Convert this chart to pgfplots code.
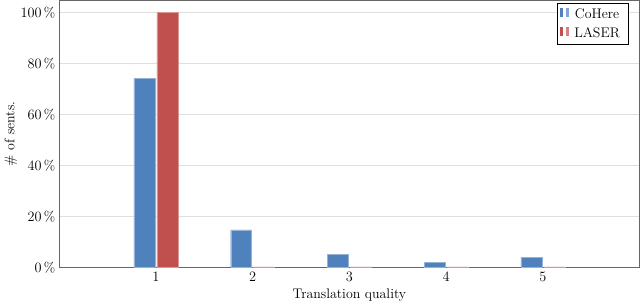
\documentclass[border=0pt]{standalone}
\usepackage{pgfplots}
\pgfplotsset{compat=1.18}
\definecolor{cblue}{RGB}{79,129,189}
\definecolor{cred}{RGB}{192,80,77}
\begin{document}
\fontsize{14}{16}\selectfont
\begin{tikzpicture}
\begin{axis}[
  scale only axis,
  width=582bp, height=268bp,
  ybar, bar width=21bp, bar shift auto,
  xmin=0, xmax=6, ymin=0, ymax=104.7,
  xtick={1,2,3,4,5},
  ytick={0,20,40,60,80,100},
  yticklabel={\pgfmathprintnumber{\tick}\,\%},
  major tick length=0pt,
  ymajorgrids, grid style={gray!25, line width=0.8pt},
  axis line style={gray!80!black, line width=0.8pt},
  xlabel={Translation quality}, ylabel={\# of sents.},
  tick label style={font=\fontsize{14}{16}\selectfont},
  label style={font=\fontsize{14}{16}\selectfont},
  legend style={at={(0.98,0.99)}, anchor=north east, font=\fontsize{14}{16}\selectfont, draw=black, inner sep=3pt, row sep=3pt, nodes={inner xsep=5pt}},
  legend image code/.code={\draw[#1, draw=none] (0bp,-3bp) rectangle (3.5bp,6bp); \draw[#1, draw=none, opacity=0.7] (6bp,-3bp) rectangle (9.5bp,6bp);},
  xlabel style={yshift=2pt},
  ylabel style={yshift=-6pt},
  yticklabel style={xshift=1pt},
]
\addplot[fill=cblue, draw=cblue!60!white] coordinates {(1,74.2) (2,14.8) (3,5.2) (4,2.0) (5,4.1)};
\addplot[fill=cred, draw=cred!60!white] coordinates {(1,100) (2,0.3) (3,0.3) (4,0.3) (5,0.3)};
\legend{CoHere, LASER}
\end{axis}
\end{tikzpicture}
\end{document}
